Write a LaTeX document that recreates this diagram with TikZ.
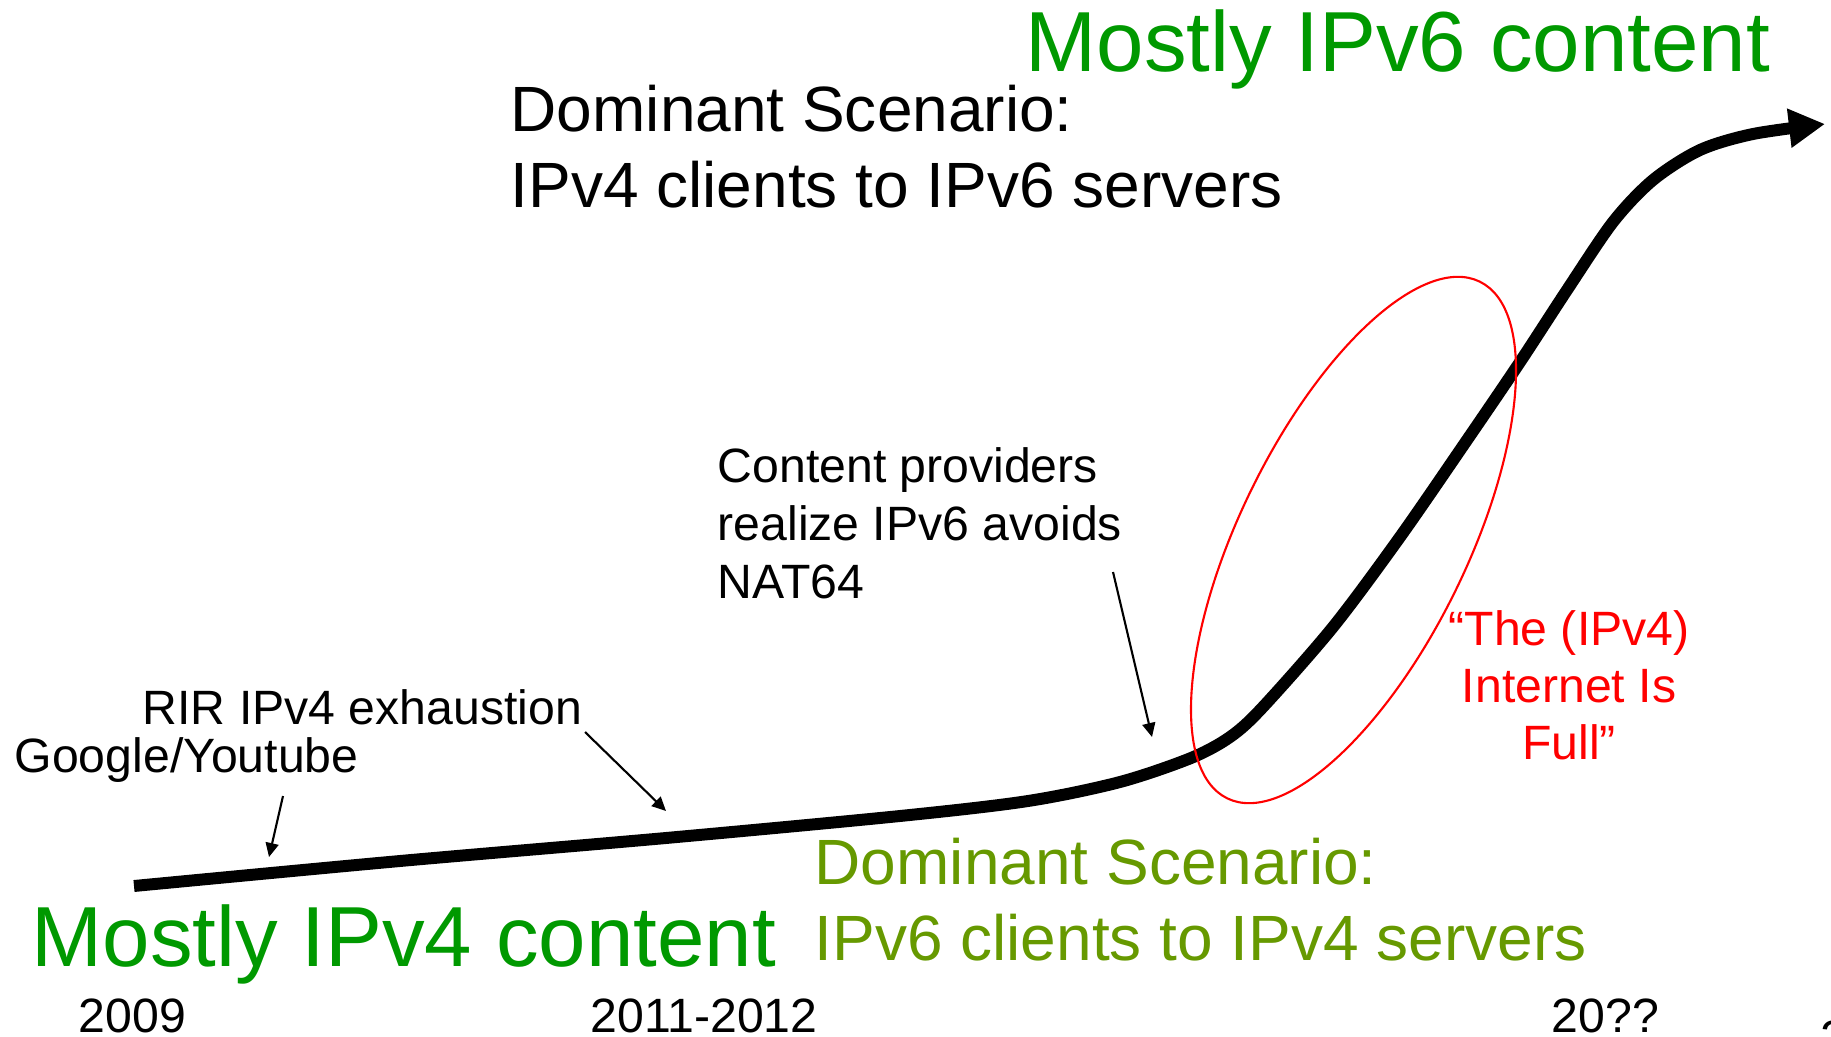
\documentclass[tikz,border=0pt]{standalone}
\usepackage{fontspec}
\setmainfont{Liberation Sans}
\usetikzlibrary{arrows.meta}
\definecolor{dgreen}{RGB}{0,153,0}
\definecolor{olivegreen}{RGB}{102,153,0}
\begin{document}
\begin{tikzpicture}[x=0.01cm, y=-0.01cm,
  big/.style={font=\fontsize{24.25}{29}\selectfont, text=dgreen, anchor=base west, inner sep=0pt},
  mid/.style={font=\fontsize{18.2}{22}\selectfont, anchor=base west, inner sep=0pt},
  small/.style={font=\fontsize{13.7}{16}\selectfont, anchor=base west, inner sep=0pt},
  redtxt/.style={font=\fontsize{13.7}{16}\selectfont, text=red, anchor=base, inner sep=0pt},
  growth/.style={line width=3.4pt, line cap=butt, -{Triangle[length=0.36cm,width=0.37cm]}},
  pointer/.style={line width=0.6pt, -{Triangle[length=0.14cm,width=0.13cm]}},
  ring/.style={draw=red, line width=0.6pt}
]
\useasboundingbox (0,0) rectangle (1831,1037);

% main growth curve
\draw[growth] plot[smooth, tension=0.5] coordinates {
  (134,886) (400,861) (666,838) (900,816) (1028,801) (1120,782)
  (1191,758) (1230,737) (1262,708) (1333,627) (1400,537) (1467,440)
  (1520,362) (1567,290) (1613,222) (1653,180) (1700,150) (1753,134) (1825,124)};

% red ellipse
\draw[ring, rotate around={63.95:(1353.5,540)}] (1353.5,540) ellipse [x radius=2.874cm, y radius=1.138cm];

% texts
\node[big] (v6content) at (1025,72) {Mostly IPv6 content};
\node[big] (v4content) at (31,966) {Mostly IPv4 content};

\node[mid] (dom1a) at (510,132) {Dominant Scenario:};
\node[mid] (dom1b) at (510,208) {IPv4 clients to IPv6 servers};

\node[mid, text=olivegreen] (dom2a) at (814,884) {Dominant Scenario:};
\node[mid, text=olivegreen] (dom2b) at (814,960) {IPv6 clients to IPv4 servers};

\node[small] (cp1) at (717,482) {Content providers};
\node[small] (cp2) at (717,541) {realize IPv6 avoids};
\node[small] (cp3) at (717,598) {NAT64};

\node[small] (rir) at (142,724) {RIR IPv4 exhaustion};
\node[small] (goog) at (14,772) {Google/Youtube};

\node[redtxt] (full1) at (1569,645) {“The (IPv4)};
\node[redtxt] (full2) at (1569,702) {Internet Is};
\node[redtxt] (full3) at (1569,759) {Full”};

\node[small] (y1) at (78,1032) {2009};
\node[small] (y2) at (590,1032) {2011-2012};
\node[small] (y3) at (1551,1032) {20??};
\node[small] (pg) at (1820,1054) {2};

% pointer arrows
\coordinate (gt) at (283,796);
\coordinate (gh) at (269,857);
\coordinate (rt) at (585,732);
\coordinate (rh) at (666,811);
\coordinate (ct) at (1113,572);
\coordinate (ch) at (1152,737);
\draw[pointer] (gt) -- (gh);
\draw[pointer] (rt) -- (rh);
\draw[pointer] (ct) -- (ch);
\end{tikzpicture}
\end{document}
